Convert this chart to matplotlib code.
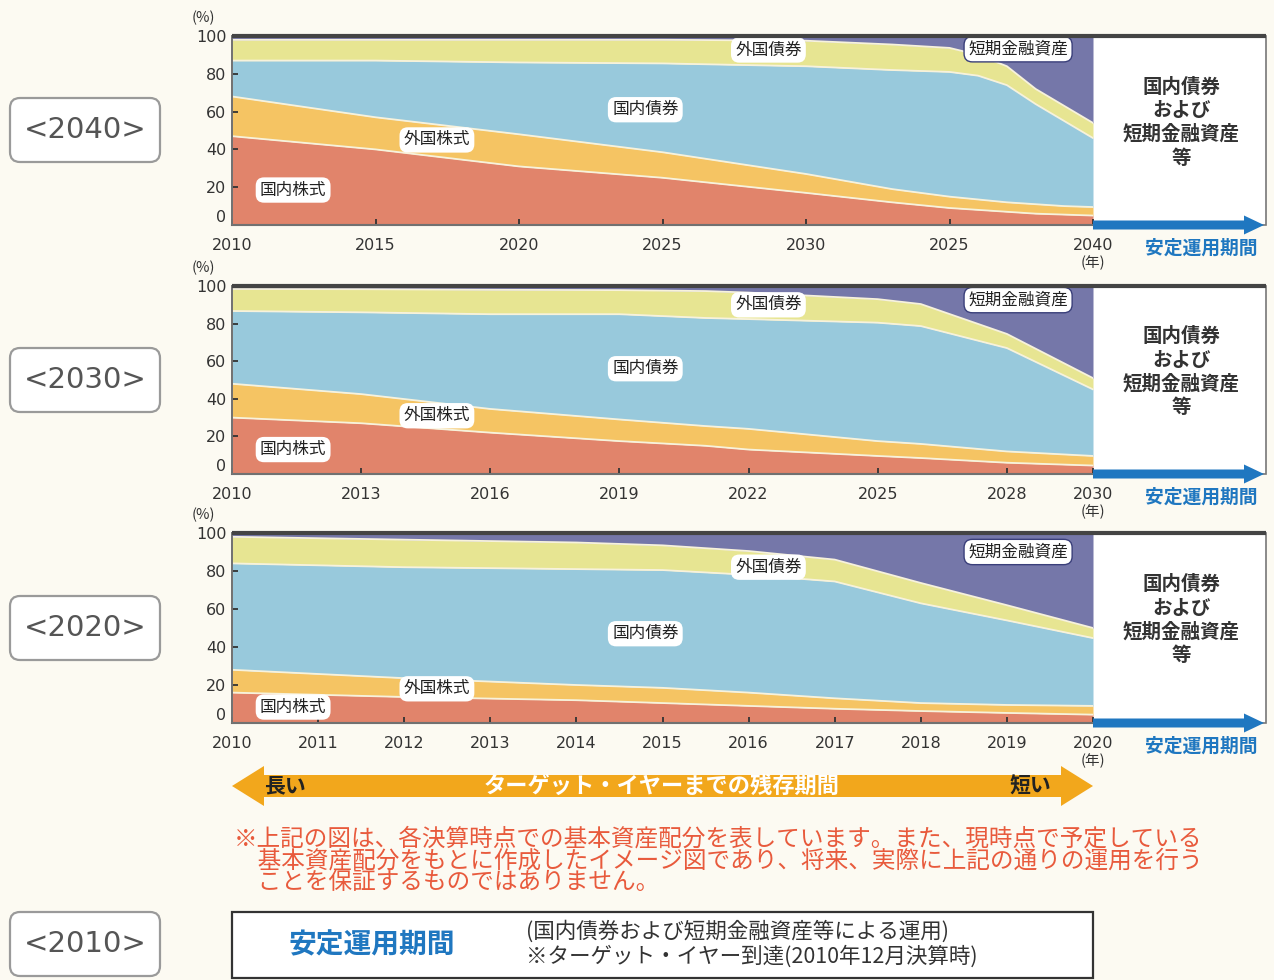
"""
Target-year fund glide paths (2040 / 2030 / 2020): stacked asset allocation
per fiscal year, with the "安定運用期間" box on the right of each panel.
"""

import numpy as np
import matplotlib
matplotlib.use("Agg")
import matplotlib.pyplot as plt
from matplotlib.patches import FancyBboxPatch, Rectangle, Polygon, FancyArrow

plt.rcParams['font.family'] = ['Noto Sans CJK JP', 'DejaVu Sans']

# -----------------------------------------------------------------------------
# Data (shares in %)
# -----------------------------------------------------------------------------
asset_names = ["国内株式", "外国株式", "国内債券", "外国債券", "短期金融資産"]

years_2040 = [2010, 2015, 2020, 2025, 2030, 2033, 2035, 2036, 2037, 2038, 2039, 2040]
dom_eq_2040 = [47, 40, 31, 25, 17, 12, 9, 8, 7, 6, 5.5, 5]
for_eq_2040 = [21, 17, 17, 13.5, 10, 7, 6, 5.5, 5, 5, 4.5, 4.5]
dom_bd_2040 = [19, 30, 38, 47, 57, 63, 66, 65.5, 62, 53, 45, 36.5]
for_bd_2040 = [11, 11, 12, 12.5, 13.5, 13.5, 12.7, 11, 10, 8, 8, 8]
short_2040 = [2, 2, 2, 2, 2.5, 4.5, 6.3, 10, 16, 28, 37, 46]
ticks_2040 = [2010, 2015, 2020, 2025, 2030, 2035, 2040]
ticklabels_2040 = ["2010", "2015", "2020", "2025", "2030", "2025", "2040"]

years_2030 = [2010, 2013, 2016, 2019, 2021, 2022, 2025, 2026, 2028, 2030]
dom_eq_2030 = [30, 27, 22, 17.5, 15, 13, 9.6, 8.5, 6, 4.5]
for_eq_2030 = [18, 15.5, 12.6, 11.5, 10.5, 11, 7.9, 7.5, 6, 5.1]
dom_bd_2030 = [38.7, 43.5, 50.4, 56, 57.5, 58.4, 63, 62.7, 55, 35.4]
for_bd_2030 = [11.7, 12.3, 13, 12.8, 14.3, 14.1, 12.5, 11.7, 7.5, 6]
short_2030 = [1.6, 1.7, 2, 2.2, 2.7, 3.5, 7, 9.6, 25.5, 49]
ticks_2030 = [2010, 2013, 2016, 2019, 2022, 2025, 2028, 2030]
ticklabels_2030 = [str(t) for t in ticks_2030]

years_2020 = [2010, 2012, 2014, 2015, 2016, 2017, 2018, 2019, 2020]
dom_eq_2020 = [16, 13.7, 12, 10.5, 9, 7.5, 6.3, 5.3, 4.4]
for_eq_2020 = [12, 9.9, 8, 8, 7, 5.5, 4.2, 4.2, 4.6]
dom_bd_2020 = [56, 58.4, 61, 62, 62, 61.5, 52.5, 44.5, 35.7]
for_bd_2020 = [14, 14.5, 14, 13, 12.5, 11.5, 10.7, 8, 5.3]
short_2020 = [2, 3.5, 5, 6.5, 9.5, 14, 26.3, 38, 50]
ticks_2020 = list(range(2010, 2021))
ticklabels_2020 = [str(t) for t in ticks_2020]

note_lines = [
    "※上記の図は、各決算時点での基本資産配分を表しています。また、現時点で予定している",
    "　基本資産配分をもとに作成したイメージ図であり、将来、実際に上記の通りの運用を行う",
    "　ことを保証するものではありません。",
]

# -----------------------------------------------------------------------------
# Styling
# -----------------------------------------------------------------------------
BG = "#fcfaf2"
COLORS = ["#e1846b", "#f5c463", "#98c9dc", "#e7e592", "#7577a9"]
SEP = "#f7f2dc"
BLUE = "#1f77c0"
RED = "#e85a3c"

W, H = 1274, 980
fig = plt.figure(figsize=(W / 100, H / 100), dpi=100, facecolor=BG)


def px_axes(x0, y0, x1, y1, **kw):
    return fig.add_axes([x0 / W, 1 - y1 / H, (x1 - x0) / W, (y1 - y0) / H], **kw)


bg = px_axes(0, 0, W, H, zorder=0)
bg.set_xlim(0, W); bg.set_ylim(H, 0); bg.axis("off")
fg = px_axes(0, 0, W, H, zorder=5)
fg.set_xlim(0, W); fg.set_ylim(H, 0); fg.axis("off")
fg.patch.set_alpha(0)

X0, X1, XR = 232, 1093, 1266

panels = [
    dict(target=2040, top=36, bottom=225, label_y=130,
         years=years_2040,
         series=[dom_eq_2040, for_eq_2040, dom_bd_2040, for_bd_2040, short_2040],
         ticks=ticks_2040, ticklabels=ticklabels_2040,
         lab_pos=[(0.071, 0.185), (0.238, 0.45), (0.48, 0.61), (0.623, 0.926), (0.913, 0.93)]),
    dict(target=2030, top=286, bottom=474, label_y=380,
         years=years_2030,
         series=[dom_eq_2030, for_eq_2030, dom_bd_2030, for_bd_2030, short_2030],
         ticks=ticks_2030, ticklabels=ticklabels_2030,
         lab_pos=[(0.071, 0.13), (0.238, 0.31), (0.48, 0.56), (0.623, 0.90), (0.913, 0.925)]),
    dict(target=2020, top=533, bottom=723, label_y=628,
         years=years_2020,
         series=[dom_eq_2020, for_eq_2020, dom_bd_2020, for_bd_2020, short_2020],
         ticks=ticks_2020, ticklabels=ticklabels_2020,
         lab_pos=[(0.071, 0.084), (0.238, 0.18), (0.48, 0.47), (0.623, 0.82), (0.913, 0.90)]),
]

for p in panels:
    top, bottom = p["top"], p["bottom"]
    ax = px_axes(X0, top, X1, bottom, zorder=2)
    x = np.array(p["years"], dtype=float)
    cum = np.cumsum(np.array(p["series"], dtype=float), axis=0)
    lower = np.zeros_like(x)
    for k in range(len(asset_names)):
        upper = cum[k] if k < len(asset_names) - 1 else np.full_like(x, 100.0)
        ax.fill_between(x, lower, upper, color=COLORS[k], lw=0)
        if k < len(asset_names) - 1:
            ax.plot(x, upper, color=SEP, lw=1.3)
        lower = upper

    ax.set_xlim(2010, p["target"])
    ax.set_ylim(0, 100)
    ax.set_xticks(p["ticks"])
    ax.set_xticklabels(p["ticklabels"])
    ax.set_yticks(range(0, 101, 20))
    ax.tick_params(direction="in", length=4, width=1.3, color="#333",
                   labelsize=11.5, labelcolor="#333")
    ax.tick_params(axis="x", pad=9)
    ax.tick_params(axis="y", pad=4)
    for lab in ax.get_xticklabels() + ax.get_yticklabels():
        lab.set_family("DejaVu Sans")
    ax.get_yticklabels()[0].set_verticalalignment("bottom")
    ax.spines["right"].set_visible(False)
    ax.spines["top"].set_visible(False)
    ax.spines["left"].set_color("#555")
    ax.spines["bottom"].set_color("#555")
    ax.spines["left"].set_linewidth(1.3)
    ax.spines["bottom"].set_linewidth(1.5)

    for k, (fx, fy) in enumerate(p["lab_pos"]):
        ec = "#3a3f7a" if k == 4 else "none"
        ax.text(fx, fy, asset_names[k], transform=ax.transAxes, ha="center", va="center",
                fontsize=12, color="#222", zorder=5,
                bbox=dict(boxstyle="round,pad=0.25,rounding_size=0.5", fc="white", ec=ec, lw=1))

    # right-hand white box
    bg.add_patch(Rectangle((X1, top), XR - X1, bottom - top, fc="white", ec="none"))
    bg.text((X1 + XR) / 2 + 2, (top + bottom) / 2 - 8, "国内債券\nおよび\n短期金融資産\n等",
            ha="center", va="center", fontsize=14, color="#333",
            fontweight="bold", linespacing=1.3)
    # frame
    fg.add_patch(Rectangle((X0, top), XR - X0, bottom - top, fill=False, ec="#777", lw=1.2))
    fg.plot([X0, XR], [top, top], color="#444", lw=3, solid_capstyle="butt")
    # blue arrow
    fg.add_patch(FancyArrow(X1, bottom, XR - X1 - 2, 0, width=9, head_width=19,
                            head_length=20, length_includes_head=True, fc=BLUE, ec="none"))
    fg.text(1201, bottom + 23, "安定運用期間", ha="center", va="center",
            fontsize=13.5, color=BLUE, fontweight="bold")
    fg.text(X1, bottom + 38, "(年)", ha="center", va="center", fontsize=10.5, color="#333")
    fg.text(203, top - 18, "(%)", ha="center", va="center", fontsize=10.5, color="#333")

    # left year label
    bg.add_patch(FancyBboxPatch((10, p["label_y"] - 32), 150, 64,
                                boxstyle="round,pad=0,rounding_size=10",
                                fc="white", ec="#9a9a9a", lw=1.6))
    bg.text(85, p["label_y"], f"<{p['target']}>", ha="center", va="center",
            fontsize=21, color="#555", family="DejaVu Sans")

# <2010> label
bg.add_patch(FancyBboxPatch((10, 944 - 32), 150, 64, boxstyle="round,pad=0,rounding_size=10",
                            fc="white", ec="#9a9a9a", lw=1.6))
bg.text(85, 944, "<2010>", ha="center", va="center", fontsize=21, color="#555",
        family="DejaVu Sans")

# orange double arrow (remaining period to target year)
cy = 786
arrow_pts = [(X0, cy), (X0 + 32, cy - 20), (X0 + 32, cy - 11), (X1 - 32, cy - 11),
             (X1 - 32, cy - 20), (X1, cy), (X1 - 32, cy + 20), (X1 - 32, cy + 11),
             (X0 + 32, cy + 11), (X0 + 32, cy + 20)]
bg.add_patch(Polygon(arrow_pts, closed=True, fc="#f2a71c", ec="none"))
bg.text(285, cy, "長い", ha="center", va="center", fontsize=15, fontweight="bold", color="#222")
bg.text(1030, cy, "短い", ha="center", va="center", fontsize=15, fontweight="bold", color="#222")
bg.text(662, cy, "ターゲット・イヤーまでの残存期間", ha="center", va="center",
        fontsize=16, fontweight="bold", color="white", style="italic")

# note (one text block so lines sit tight)
bg.text(234, 828, "\n".join(note_lines), ha="left", va="top", fontsize=17,
        color=RED, linespacing=0.92)

# bottom box
bg.add_patch(Rectangle((X0, 912), X1 - X0, 66, fc="white", ec="#333", lw=1.6))
bg.text(372, 945, "安定運用期間", ha="center", va="center", fontsize=20,
        fontweight="bold", color=BLUE)
bg.text(526, 932, "(国内債券および短期金融資産等による運用)", ha="left", va="center",
        fontsize=15.5, color="#333")
bg.text(526, 957, "※ターゲット・イヤー到達(2010年12月決算時)", ha="left", va="center",
        fontsize=15.5, color="#333")

fig.savefig("out.png", dpi=100, facecolor=BG)
